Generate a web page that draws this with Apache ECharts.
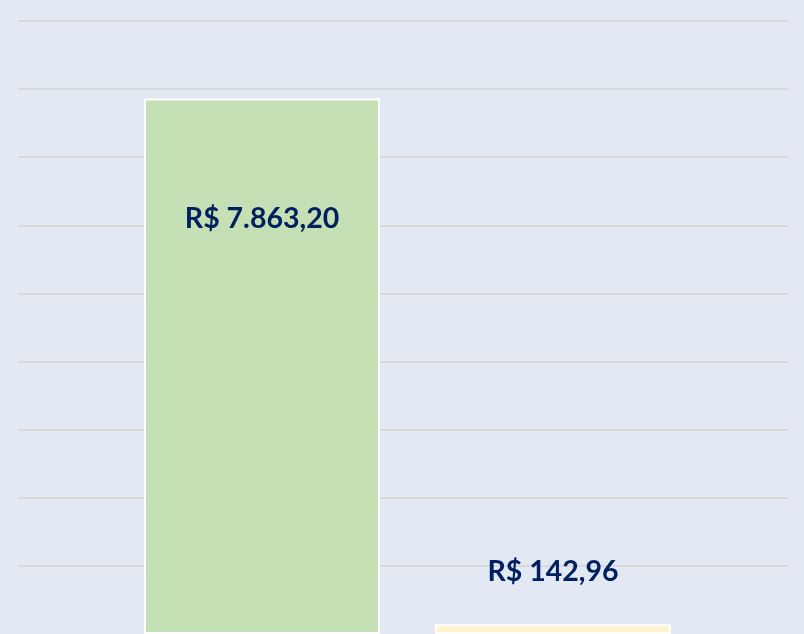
<!DOCTYPE html>
<html><head><meta charset="utf-8">
<script src="https://cdn.jsdelivr.net/npm/echarts@6/dist/echarts.min.js"></script>
<style>html,body{margin:0;padding:0;background:#e3e9f3;overflow:hidden}#c{width:804px;height:634px}</style>
</head><body><div id="c"></div>
<script>
const categories = ['Receita', 'Despesa'];
const values = [7863.20, 142.96];
const labels = ['R$ 7.863,20', 'R$ 142,96'];
const colors = ['#c5e0b4', '#fff2cc'];
const yMax = 9000, yInterval = 1000;

const chart = echarts.init(document.getElementById('c'));
const labelStyle = {show: true, color: '#002060', fontFamily: 'Lato', fontWeight: 'bold', fontSize: 28.5};
chart.setOption({
  backgroundColor: '#e3e9f3',
  animation: false,
  grid: [
    {left: 18, right: 16, top: 21, bottom: -3},
    {left: 116.5, width: 582, top: 21, bottom: -3}
  ],
  xAxis: [
    {gridIndex: 0, type: 'category', data: categories, show: false},
    {gridIndex: 1, type: 'category', data: categories, show: false}
  ],
  yAxis: [
    {gridIndex: 0, type: 'value', min: 0, max: yMax, interval: yInterval,
     axisLabel: {show: false}, axisLine: {show: false}, axisTick: {show: false},
     splitLine: {showMinLine: false, lineStyle: {color: '#d9d9d9', width: 2}}},
    {gridIndex: 1, type: 'value', min: 0, max: yMax, interval: yInterval, show: false,
     splitLine: {show: false}}
  ],
  series: [{
    type: 'bar', xAxisIndex: 1, yAxisIndex: 1, barWidth: 236,
    data: values.map((v, i) => ({
      value: v,
      itemStyle: {color: colors[i], borderColor: '#ffffff', borderWidth: 2},
      label: Object.assign({formatter: labels[i]}, labelStyle,
        i === 0 ? {position: 'insideTop', distance: 106} : {position: 'top', distance: 38})
    }))
  }]
});
</script></body></html>
